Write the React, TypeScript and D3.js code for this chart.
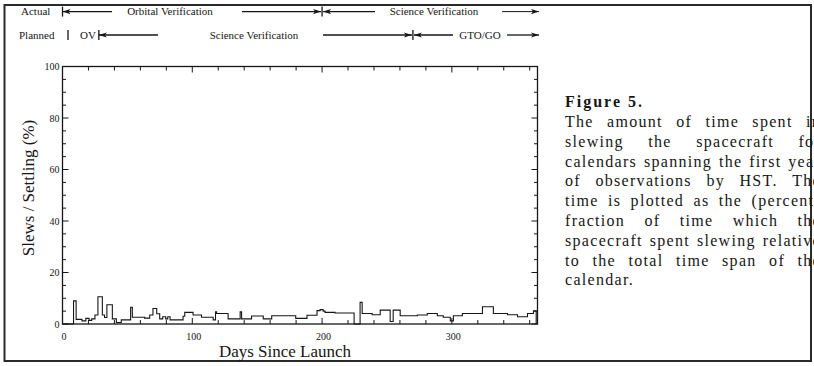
import React, { useMemo } from "react";
import * as d3 from "d3";

// ---- data ----
const stepStartDays = [0, 8.5, 10.5, 15, 18, 20.5, 22.5, 25, 27.3, 30.7, 32.4, 34.2, 38.4, 41.5, 45.3, 52.5, 53.8, 63.3, 67.2, 69.7, 72.6, 74.9, 77.2, 79.5, 81.1, 82.9, 92.9, 94.2, 100.6, 107.1, 116.1, 117.9, 118.7, 127.6, 136.9, 138, 145.7, 154.7, 161.2, 179.7, 188.4, 196.1, 198.5, 200.8, 202.3, 210, 224.7, 229.3, 230.9, 238.6, 244.8, 252.5, 254.8, 260.2, 273.4, 281.1, 288.8, 293.4, 298.8, 301.2, 308.1, 323.6, 332, 342.9, 350.6, 358.3, 362.9];
const slewPercent = [0, 9.0, 1.8, 1.2, 2.2, 1.4, 2.0, 3.5, 10.6, 3.5, 2.5, 7.5, 2.0, 0.6, 1.6, 6.5, 2.6, 2.3, 3.5, 6.0, 4.0, 2.0, 2.8, 2.0, 2.8, 1.6, 3.0, 4.5, 3.5, 2.6, 1.6, 4.7, 4.1, 2.0, 4.7, 2.0, 3.1, 2.0, 3.2, 2.2, 3.4, 5.2, 5.6, 5.0, 4.5, 4.3, 0, 8.4, 4.1, 3.6, 5.4, 1.0, 5.4, 3.2, 3.5, 4.1, 3.2, 2.6, 1.2, 3.2, 4.1, 6.7, 4.1, 3.6, 2.8, 4.1, 5.1];
const lastDay = 365;

const yMajorTicks = [0, 20, 40, 60, 80, 100];
const yMinorTicks = d3.range(0, 101, 5);
const xMajorTicks = [0, 100, 200, 300];
const xMinorTicks = d3.range(0, 366, 20);

const yAxisTitle = "Slews / Settling (%)";
const xAxisTitle = "Days Since Launch";

const captionTitle = "Figure 5.";
const captionLines = [
  "The amount of time spent in",
  "slewing the spacecraft for",
  "calendars spanning the first year",
  "of observations by HST. The",
  "time is plotted as the (percent)",
  "fraction of time which the",
  "spacecraft spent slewing relative",
  "to the total time span of the",
  "calendar.",
];

// phase annotations (day boundaries)
const actualBoundaries = [0, 200];
const plannedBoundaries = [28, 270];

const W = 814;
const H = 366;
const FONT = "'Liberation Serif', 'Times New Roman', serif";
const INK = "#161616";

function useMeasurer() {
  return useMemo(() => {
    const ctx = document.createElement("canvas").getContext("2d")!;
    return (text: string, font: string) => {
      ctx.font = font;
      return ctx.measureText(text).width;
    };
  }, []);
}

function Arrow({ x1, x2, yc, dir, sw = 1.3 }: { x1: number; x2: number; yc: number; dir: 1 | -1; sw?: number }) {
  const tip = dir === 1 ? x2 : x1;
  const hl = 8;
  const hw = 2.6;
  return (
    <g>
      <line x1={x1} x2={x2} y1={yc} y2={yc} stroke={INK} strokeWidth={sw} />
      <polygon
        points={`${tip},${yc} ${tip - dir * hl},${yc - hw} ${tip - dir * (hl - 2)},${yc} ${tip - dir * hl},${yc + hw}`}
        fill={INK}
      />
    </g>
  );
}

export default function App() {
  const measure = useMeasurer();
  const x = d3.scaleLinear().domain([0, 366]).range([62.5, 537.5]);
  const y = d3.scaleLinear().domain([0, 100]).range([324, 66.5]);

  const pts: [number, number][] = stepStartDays.map((d, i) => [d, slewPercent[i]]);
  pts.push([lastDay, slewPercent[slewPercent.length - 1]]);
  pts.push([lastDay, 0]);
  const path = d3
    .line<[number, number]>()
    .x((d) => x(d[0]))
    .y((d) => y(d[1]))
    .curve(d3.curveStepAfter)(pts)!;

  const x0 = x.range()[0];
  const x1 = x.range()[1];
  const y0 = y.range()[0];
  const y1 = y.range()[1];

  // caption layout (justified)
  const capX = 565;
  const capR = 821;
  const capSize = 16;
  const ls = 1.3;
  const capFont = `${capSize}px 'Liberation Serif'`;
  const firstBase = 127;
  const lineH = 19.8;
  const captionWords: { t: string; x: number; y: number }[] = [];
  captionLines.forEach((line, li) => {
    const words = line.split(" ");
    const widths = words.map((w) => measure(w, capFont) + ls * w.length);
    const total = d3.sum(widths);
    const isLast = li === captionLines.length - 1;
    const gap = isLast || words.length < 2 ? measure(" ", capFont) + ls : (capR - capX - total) / (words.length - 1);
    let cx = capX;
    words.forEach((w, wi) => {
      captionWords.push({ t: w, x: cx, y: firstBase + li * lineH });
      cx += widths[wi] + gap;
    });
  });

  const r1 = 11.6;
  const r2 = 35;
  const annFont = 11;

  return (
    <svg
      width={W}
      height={H}
      viewBox={`0 0 ${W} ${H}`}
      style={{ position: "absolute", left: 0, top: 0, background: "#fff" }}
      fontFamily={FONT}
    >
      <rect x={0} y={0} width={W} height={H} fill="#fff" />
      {/* outer frame */}
      <rect x={4.5} y={5} width={806.5} height={356} fill="none" stroke="#2a2a2a" strokeWidth={2} />

      {/* ---- annotations row 1 ---- */}
      <text x={21} y={r1} dy="0.35em" fontSize={annFont} fill={INK}>Actual</text>
      {actualBoundaries.map((d) => (
        <line key={"ab" + d} x1={x(d)} x2={x(d)} y1={r1 - 5} y2={r1 + 5} stroke={INK} strokeWidth={1.3} />
      ))}
      <Arrow x1={x(0)} x2={112} yc={r1} dir={-1} />
      <text x={170} y={r1} dy="0.35em" fontSize={annFont} textAnchor="middle" fill={INK}>Orbital Verification</text>
      <Arrow x1={242} x2={x(200) - 1} yc={r1} dir={1} />
      <Arrow x1={x(200) + 1} x2={375} yc={r1} dir={-1} />
      <text x={434} y={r1} dy="0.35em" fontSize={annFont} textAnchor="middle" fill={INK}>Science Verification</text>
      <Arrow x1={502} x2={539} yc={r1} dir={1} sw={1} />

      {/* ---- annotations row 2 ---- */}
      <text x={19} y={r2} dy="0.35em" fontSize={annFont} fill={INK}>Planned</text>
      <line x1={68} x2={68} y1={r2 - 5} y2={r2 + 5} stroke={INK} strokeWidth={1.3} />
      <text x={88} y={r2} dy="0.35em" fontSize={annFont} textAnchor="middle" fill={INK}>OV</text>
      {plannedBoundaries.map((d) => (
        <line key={"pb" + d} x1={x(d)} x2={x(d)} y1={r2 - 5} y2={r2 + 5} stroke={INK} strokeWidth={1.3} />
      ))}
      <Arrow x1={x(28)} x2={158} yc={r2} dir={-1} />
      <text x={254} y={r2} dy="0.35em" fontSize={annFont} textAnchor="middle" fill={INK}>Science Verification</text>
      <Arrow x1={323} x2={x(270) - 1} yc={r2} dir={1} />
      <Arrow x1={x(270) + 1} x2={453} yc={r2} dir={-1} />
      <text x={480} y={r2} dy="0.35em" fontSize={annFont} textAnchor="middle" fill={INK}>GTO/GO</text>
      <Arrow x1={507} x2={539} yc={r2} dir={1} />

      {/* ---- plot frame ---- */}
      <rect x={x0} y={y1} width={x1 - x0} height={y0 - y1} fill="none" stroke={INK} strokeWidth={1.3} />

      {/* y ticks left & right */}
      {yMinorTicks.map((v) => {
        const major = v % 20 === 0;
        const len = major ? 6 : 3.5;
        return (
          <g key={"yt" + v}>
            <line x1={x0} x2={x0 + len} y1={y(v)} y2={y(v)} stroke={INK} strokeWidth={1} />
            <line x1={x1} x2={x1 - len} y1={y(v)} y2={y(v)} stroke={INK} strokeWidth={1} />
          </g>
        );
      })}
      {yMajorTicks.map((v) => (
        <text key={"yl" + v} x={x0 - 3} y={y(v)} dy="0.35em" fontSize={10} textAnchor="end" fill={INK}>
          {v}
        </text>
      ))}

      {/* x ticks bottom & top */}
      {xMinorTicks.map((v) => {
        const major = v % 100 === 0;
        const len = major ? 6 : 4;
        return (
          <g key={"xt" + v}>
            <line x1={x(v)} x2={x(v)} y1={y0} y2={y0 - len} stroke={INK} strokeWidth={1} />
            <line x1={x(v)} x2={x(v)} y1={y1} y2={y1 + len} stroke={INK} strokeWidth={1} />
          </g>
        );
      })}
      {xMajorTicks.map((v) => (
        <text key={"xl" + v} x={x(v) + 1.5} y={y0 + 12} dy="0.35em" fontSize={10} textAnchor="middle" fill={INK}>
          {v}
        </text>
      ))}

      {/* data step line */}
      <path d={path} fill="none" stroke={INK} strokeWidth={1.1} />

      {/* axis titles */}
      <text x={285} y={357} fontSize={17} textAnchor="middle" fill={INK}>{xAxisTitle}</text>
      <text transform={`translate(34,188) rotate(-90)`} fontSize={17} textAnchor="middle" fill={INK}>
        {yAxisTitle}
      </text>

      {/* caption */}
      <text x={capX} y={firstBase - lineH} fontSize={capSize} fontWeight="bold" letterSpacing={2} fill={INK}>
        {captionTitle}
      </text>
      {captionWords.map((w, i) => (
        <text key={"cw" + i} x={w.x} y={w.y} fontSize={capSize} letterSpacing={ls} fill={INK}>
          {w.t}
        </text>
      ))}
    </svg>
  );
}
